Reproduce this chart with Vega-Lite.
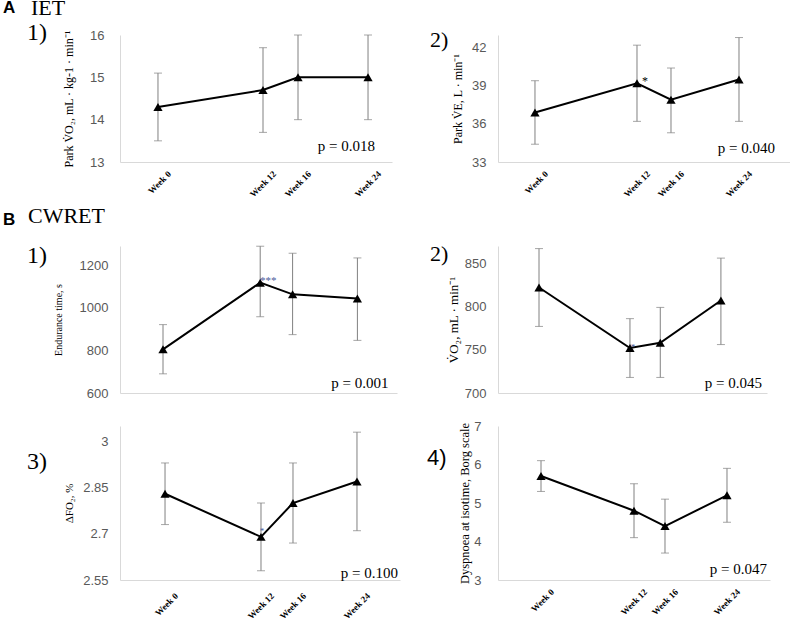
{
  "$schema": "https://vega.github.io/schema/vega-lite/v6.json",
  "padding": {"left": 3, "top": -3, "right": 0, "bottom": 0},
  "background": "white",
  "bounds": "full",
  "spacing": 6,
  "config": {
    "view": {"stroke": null},
    "axis": {"ticks": false, "grid": false, "domainColor": "#d9d9d9", "domainWidth": 1, "labelFlush": false, "labelOverlap": false, "labelSeparation": 0},
    "axisY": {"labelFont": "Liberation Sans", "labelFontSize": 13, "labelColor": "#595959", "labelPadding": 12, "labelExpr": "'' + datum.value", "labelOverlap": false, "titleFont": "Liberation Serif", "titleFontWeight": "normal", "titleColor": "black", "titleFontSize": 12},
    "axisX": {"labelExpr": "'Week ' + datum.value", "labelAngle": -45, "labelAlign": "right", "labelBaseline": "middle", "labelFont": "Liberation Serif", "labelFontWeight": "bold", "labelFontSize": 9, "labelColor": "black", "labelOffset": 11, "labelPadding": 10, "labelOverlap": false, "title": null},
    "title": {"anchor": "start", "frame": "group", "font": "Liberation Serif", "fontWeight": "normal", "color": "black", "fontSize": 22, "baseline": "alphabetic", "offset": 0}
  },
  "datasets": {
    "iet1": [
      {"week": 0, "mean": 14.3, "lo": 13.5, "hi": 15.1, "sig": "", "p": ""},
      {"week": 12, "mean": 14.7, "lo": 13.7, "hi": 15.7, "sig": "", "p": ""},
      {"week": 16, "mean": 15.0, "lo": 14.0, "hi": 16.0, "sig": "", "p": ""},
      {"week": 24, "mean": 15.0, "lo": 14.0, "hi": 16.0, "sig": "", "p": "p = 0.018"}
    ],
    "iet2": [
      {"week": 0, "mean": 36.9, "lo": 34.4, "hi": 39.4, "sig": "", "p": ""},
      {"week": 12, "mean": 39.2, "lo": 36.2, "hi": 42.2, "sig": "*", "p": ""},
      {"week": 16, "mean": 37.9, "lo": 35.3, "hi": 40.4, "sig": "", "p": ""},
      {"week": 24, "mean": 39.5, "lo": 36.2, "hi": 42.8, "sig": "", "p": "p = 0.040"}
    ],
    "cw1": [
      {"week": 0, "mean": 805, "lo": 690, "hi": 921, "sig": "", "p": ""},
      {"week": 12, "mean": 1118, "lo": 958, "hi": 1289, "sig": "***", "p": ""},
      {"week": 16, "mean": 1063, "lo": 874, "hi": 1256, "sig": "", "p": ""},
      {"week": 24, "mean": 1044, "lo": 847, "hi": 1234, "sig": "", "p": "p = 0.001"}
    ],
    "cw2": [
      {"week": 0, "mean": 822, "lo": 777, "hi": 867, "sig": "", "p": ""},
      {"week": 12, "mean": 752, "lo": 718, "hi": 786, "sig": "*", "p": ""},
      {"week": 16, "mean": 758, "lo": 718, "hi": 799, "sig": "", "p": ""},
      {"week": 24, "mean": 807, "lo": 756, "hi": 856, "sig": "", "p": "p = 0.045"}
    ],
    "cw3": [
      {"week": 0, "mean": 2.83, "lo": 2.73, "hi": 2.93, "sig": "", "p": ""},
      {"week": 12, "mean": 2.69, "lo": 2.58, "hi": 2.80, "sig": "*", "p": ""},
      {"week": 16, "mean": 2.80, "lo": 2.67, "hi": 2.93, "sig": "", "p": ""},
      {"week": 24, "mean": 2.87, "lo": 2.71, "hi": 3.03, "sig": "", "p": "p = 0.100"}
    ],
    "cw4": [
      {"week": 0, "mean": 5.7, "lo": 5.3, "hi": 6.1, "sig": "", "p": ""},
      {"week": 12, "mean": 4.8, "lo": 4.1, "hi": 5.5, "sig": "", "p": ""},
      {"week": 16, "mean": 4.4, "lo": 3.7, "hi": 5.1, "sig": "", "p": ""},
      {"week": 24, "mean": 5.2, "lo": 4.5, "hi": 5.9, "sig": "", "p": "p = 0.047"}
    ]
  },
  "vconcat": [
    {
      "title": {"text": "A", "font": "Liberation Sans", "fontWeight": "bold", "fontSize": 17, "frame": "bounds", "dx": -24, "dy": 24},
      "bounds": "full",
      "vconcat": [
        {
          "title": {"text": "IET", "dx": -89, "dy": 3},
          "bounds": "flush",
          "spacing": 106,
          "hconcat": [
            {
              "width": 272, "height": 127,
              "title": {"text": "1)", "fontSize": 24, "dx": -93, "offset": -16},
              "data": {"name": "iet1"},
              "encoding": {"x": {"field": "week", "type": "quantitative", "scale": {"domain": [-4.34, 26.74], "nice": false, "zero": false}, "axis": {"values": [0, 12, 16, 24]}}},
              "layer": [
                {"mark": {"type": "rule", "color": "#808080", "strokeWidth": 1}, "encoding": {"y": {"field": "lo", "type": "quantitative", "scale": {"domain": [13, 16], "nice": false, "zero": false}, "axis": {"values": [13, 14, 15, 16], "tickCount": 10, "title": "Park V̇O₂, mL · kg-1 · min⁻¹", "titleFontSize": 12, "titlePadding": 14, "labelPadding": 16}}, "y2": {"field": "hi"}}},
                {"mark": {"type": "tick", "orient": "horizontal", "size": 8, "thickness": 1, "color": "#808080"}, "encoding": {"y": {"field": "lo", "type": "quantitative"}}},
                {"mark": {"type": "tick", "orient": "horizontal", "size": 8, "thickness": 1, "color": "#808080"}, "encoding": {"y": {"field": "hi", "type": "quantitative"}}},
                {"mark": {"type": "line", "color": "black", "strokeWidth": 2}, "encoding": {"y": {"field": "mean", "type": "quantitative"}}},
                {"mark": {"type": "point", "shape": "triangle-up", "filled": true, "color": "black", "size": 85, "opacity": 1}, "encoding": {"y": {"field": "mean", "type": "quantitative"}}},
                {"transform": [{"filter": "datum.p != ''"}], "mark": {"type": "text", "align": "right", "baseline": "middle", "font": "Liberation Serif", "fontSize": 15, "dx": 7, "dy": -16, "color": "black"}, "encoding": {"y": {"datum": 13, "type": "quantitative"}, "text": {"field": "p", "type": "nominal"}}}
              ]
            },
            {
              "width": 292, "height": 127,
              "title": {"text": "2)", "dx": -68, "offset": -17},
              "data": {"name": "iet2"},
              "encoding": {"x": {"field": "week", "type": "quantitative", "scale": {"domain": [-4.35, 30.0], "nice": false, "zero": false}, "axis": {"values": [0, 12, 16, 24]}}},
              "layer": [
                {"mark": {"type": "rule", "color": "#808080", "strokeWidth": 1}, "encoding": {"y": {"field": "lo", "type": "quantitative", "scale": {"domain": [33, 43], "nice": false, "zero": false}, "axis": {"values": [33, 36, 39, 42], "tickCount": 10, "title": "Park V̇E, L · min⁻¹", "titleFontSize": 12, "titlePadding": 7}}, "y2": {"field": "hi"}}},
                {"mark": {"type": "tick", "orient": "horizontal", "size": 8, "thickness": 1, "color": "#808080"}, "encoding": {"y": {"field": "lo", "type": "quantitative"}}},
                {"mark": {"type": "tick", "orient": "horizontal", "size": 8, "thickness": 1, "color": "#808080"}, "encoding": {"y": {"field": "hi", "type": "quantitative"}}},
                {"mark": {"type": "line", "color": "black", "strokeWidth": 2}, "encoding": {"y": {"field": "mean", "type": "quantitative"}}},
                {"mark": {"type": "point", "shape": "triangle-up", "filled": true, "color": "black", "size": 85, "opacity": 1}, "encoding": {"y": {"field": "mean", "type": "quantitative"}}},
                {"mark": {"type": "text", "font": "Liberation Serif", "fontSize": 12, "dx": 8, "dy": -2, "color": "black"}, "encoding": {"y": {"field": "mean", "type": "quantitative"}, "text": {"field": "sig", "type": "nominal"}}},
                {"transform": [{"filter": "datum.p != ''"}], "mark": {"type": "text", "align": "right", "baseline": "middle", "font": "Liberation Serif", "fontSize": 15, "dx": 36, "dy": -14, "color": "black"}, "encoding": {"y": {"datum": 33, "type": "quantitative"}, "text": {"field": "p", "type": "nominal"}}}
              ]
            }
          ]
        }
      ]
    },
    {
      "title": {"text": "B", "font": "Liberation Sans", "fontWeight": "bold", "fontSize": 17, "frame": "bounds", "dx": -24, "dy": 28},
      "bounds": "full",
      "spacing": 20,
      "vconcat": [
        {
          "title": {"text": "CWRET", "dx": -92, "dy": -11},
          "bounds": "flush",
          "spacing": 101,
          "hconcat": [
            {
              "width": 277, "height": 147,
              "title": {"text": "1)", "fontSize": 24, "dx": -93, "offset": -22},
              "data": {"name": "cw1"},
              "encoding": {"x": {"field": "week", "type": "quantitative", "scale": {"domain": [-5.31, 28.89], "nice": false, "zero": false}, "axis": {"values": [0, 12, 16, 24], "labels": false}}},
              "layer": [
                {"mark": {"type": "rule", "color": "#808080", "strokeWidth": 1}, "encoding": {"y": {"field": "lo", "type": "quantitative", "scale": {"domain": [600, 1290], "nice": false, "zero": false}, "axis": {"values": [600, 800, 1000, 1200], "tickCount": 10, "title": "Endurance time, s", "titleFontSize": 10, "titlePadding": 16}}, "y2": {"field": "hi"}}},
                {"mark": {"type": "tick", "orient": "horizontal", "size": 8, "thickness": 1, "color": "#808080"}, "encoding": {"y": {"field": "lo", "type": "quantitative"}}},
                {"mark": {"type": "tick", "orient": "horizontal", "size": 8, "thickness": 1, "color": "#808080"}, "encoding": {"y": {"field": "hi", "type": "quantitative"}}},
                {"mark": {"type": "line", "color": "black", "strokeWidth": 2}, "encoding": {"y": {"field": "mean", "type": "quantitative"}}},
                {"mark": {"type": "point", "shape": "triangle-up", "filled": true, "color": "black", "size": 85, "opacity": 1}, "encoding": {"y": {"field": "mean", "type": "quantitative"}}},
                {"mark": {"type": "text", "font": "Liberation Serif", "fontSize": 11, "dx": 8, "dy": -2, "color": "#4a5a9a"}, "encoding": {"y": {"field": "mean", "type": "quantitative"}, "text": {"field": "sig", "type": "nominal"}}},
                {"transform": [{"filter": "datum.p != ''"}], "mark": {"type": "text", "align": "right", "baseline": "middle", "font": "Liberation Serif", "fontSize": 15, "dx": 31, "dy": -10, "color": "black"}, "encoding": {"y": {"datum": 600, "type": "quantitative"}, "text": {"field": "p", "type": "nominal"}}}
              ]
            },
            {
              "width": 269, "height": 147,
              "title": {"text": "2)", "dx": -68, "offset": -20},
              "data": {"name": "cw2"},
              "encoding": {"x": {"field": "week", "type": "quantitative", "scale": {"domain": [-5.41, 30.08], "nice": false, "zero": false}, "axis": {"values": [0, 12, 16, 24], "labels": false}}},
              "layer": [
                {"mark": {"type": "rule", "color": "#808080", "strokeWidth": 1}, "encoding": {"y": {"field": "lo", "type": "quantitative", "scale": {"domain": [700, 870], "nice": false, "zero": false}, "axis": {"values": [700, 750, 800, 850], "tickCount": 10, "title": "V̇O₂, mL · min⁻¹", "titleFontSize": 13, "titlePadding": 4}}, "y2": {"field": "hi"}}},
                {"mark": {"type": "tick", "orient": "horizontal", "size": 8, "thickness": 1, "color": "#808080"}, "encoding": {"y": {"field": "lo", "type": "quantitative"}}},
                {"mark": {"type": "tick", "orient": "horizontal", "size": 8, "thickness": 1, "color": "#808080"}, "encoding": {"y": {"field": "hi", "type": "quantitative"}}},
                {"mark": {"type": "line", "color": "black", "strokeWidth": 2}, "encoding": {"y": {"field": "mean", "type": "quantitative"}}},
                {"mark": {"type": "point", "shape": "triangle-up", "filled": true, "color": "black", "size": 85, "opacity": 1}, "encoding": {"y": {"field": "mean", "type": "quantitative"}}},
                {"mark": {"type": "text", "font": "Liberation Serif", "fontSize": 9, "dx": 3, "dy": -1, "color": "#4a5a9a"}, "encoding": {"y": {"field": "mean", "type": "quantitative"}, "text": {"field": "sig", "type": "nominal"}}},
                {"transform": [{"filter": "datum.p != ''"}], "mark": {"type": "text", "align": "right", "baseline": "middle", "font": "Liberation Serif", "fontSize": 15, "dx": 41, "dy": -10, "color": "black"}, "encoding": {"y": {"datum": 700, "type": "quantitative"}, "text": {"field": "p", "type": "nominal"}}}
              ]
            }
          ]
        },
        {
          "bounds": "flush",
          "spacing": 98,
          "hconcat": [
            {
              "width": 280, "height": 154,
              "title": {"text": "3)", "fontSize": 24, "dx": -93, "offset": -48},
              "data": {"name": "cw3"},
              "encoding": {"x": {"field": "week", "type": "quantitative", "scale": {"domain": [-5.63, 29.38], "nice": false, "zero": false}, "axis": {"values": [0, 12, 16, 24], "labelPadding": 14}}},
              "layer": [
                {"mark": {"type": "rule", "color": "#808080", "strokeWidth": 1}, "encoding": {"y": {"field": "lo", "type": "quantitative", "scale": {"domain": [2.55, 3.05], "nice": false, "zero": false}, "axis": {"values": [2.55, 2.7, 2.85, 3], "tickCount": 10, "title": "ΔFO₂, %", "titleFontSize": 11, "titlePadding": 8}}, "y2": {"field": "hi"}}},
                {"mark": {"type": "tick", "orient": "horizontal", "size": 8, "thickness": 1, "color": "#808080"}, "encoding": {"y": {"field": "lo", "type": "quantitative"}}},
                {"mark": {"type": "tick", "orient": "horizontal", "size": 8, "thickness": 1, "color": "#808080"}, "encoding": {"y": {"field": "hi", "type": "quantitative"}}},
                {"mark": {"type": "line", "color": "black", "strokeWidth": 2}, "encoding": {"y": {"field": "mean", "type": "quantitative"}}},
                {"mark": {"type": "point", "shape": "triangle-up", "filled": true, "color": "black", "size": 85, "opacity": 1}, "encoding": {"y": {"field": "mean", "type": "quantitative"}}},
                {"mark": {"type": "text", "font": "Liberation Serif", "fontSize": 9, "dx": 1, "dy": -6, "color": "#4a5a9a"}, "encoding": {"y": {"field": "mean", "type": "quantitative"}, "text": {"field": "sig", "type": "nominal"}}},
                {"transform": [{"filter": "datum.p != ''"}], "mark": {"type": "text", "align": "right", "baseline": "middle", "font": "Liberation Serif", "fontSize": 15, "dx": 41, "dy": -7, "color": "black"}, "encoding": {"y": {"datum": 2.55, "type": "quantitative"}, "text": {"field": "p", "type": "nominal"}}}
              ]
            },
            {
              "width": 272, "height": 154,
              "title": {"text": "4)", "font": "Liberation Sans", "fontSize": 22, "dx": -71, "offset": -50},
              "data": {"name": "cw4"},
              "encoding": {"x": {"field": "week", "type": "quantitative", "scale": {"domain": [-5.55, 29.55], "nice": false, "zero": false}, "axis": {"values": [0, 12, 16, 24]}}},
              "layer": [
                {"mark": {"type": "rule", "color": "#808080", "strokeWidth": 1}, "encoding": {"y": {"field": "lo", "type": "quantitative", "scale": {"domain": [3, 7], "nice": false, "zero": false}, "axis": {"values": [3, 4, 5, 6, 7], "tickCount": 10, "title": "Dyspnoea at isotime, Borg scale", "titleFontSize": 12.5, "titlePadding": 2, "labelPadding": 17, "labelOverlap": false}}, "y2": {"field": "hi"}}},
                {"mark": {"type": "tick", "orient": "horizontal", "size": 8, "thickness": 1, "color": "#808080"}, "encoding": {"y": {"field": "lo", "type": "quantitative"}}},
                {"mark": {"type": "tick", "orient": "horizontal", "size": 8, "thickness": 1, "color": "#808080"}, "encoding": {"y": {"field": "hi", "type": "quantitative"}}},
                {"mark": {"type": "line", "color": "black", "strokeWidth": 2}, "encoding": {"y": {"field": "mean", "type": "quantitative"}}},
                {"mark": {"type": "point", "shape": "triangle-up", "filled": true, "color": "black", "size": 85, "opacity": 1}, "encoding": {"y": {"field": "mean", "type": "quantitative"}}},
                {"transform": [{"filter": "datum.p != ''"}], "mark": {"type": "text", "align": "right", "baseline": "middle", "font": "Liberation Serif", "fontSize": 15, "dx": 40, "dy": -11, "color": "black"}, "encoding": {"y": {"datum": 3, "type": "quantitative"}, "text": {"field": "p", "type": "nominal"}}}
              ]
            }
          ]
        }
      ]
    }
  ]
}
